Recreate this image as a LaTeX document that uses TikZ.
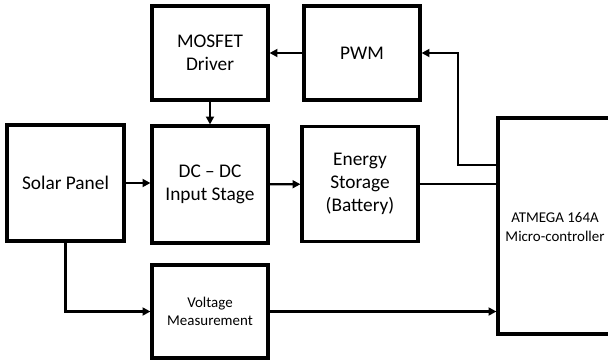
\documentclass[tikz,border=0pt]{standalone}
\usepackage{fontspec}
\setmainfont{Carlito}
\usetikzlibrary{arrows.meta}
\begin{document}
\begin{tikzpicture}[x=0.02cm, y=-0.02cm, block/.style={draw, line width=1.8pt, align=center, font=\fontsize{11}{13}\selectfont}, small/.style={font=\fontsize{8.5}{10.5}\selectfont}, arrow/.style={line width=1.3pt, -{Triangle[length=4.5pt, width=4.5pt]}}, wire/.style={line width=1.3pt}]

		\useasboundingbox (0,0) rectangle (608,360);
		\clip (0,0) rectangle (608,360);
		\node[block, minimum width=2.32cm, minimum height=1.88cm] (mos) at (210,53) {MOSFET\\Driver};
		\node[block, minimum width=2.32cm, minimum height=1.88cm] (pwm) at (362,53) {PWM};
		\node[block, minimum width=2.34cm, minimum height=2.32cm] (solar) at (65.5,183) {Solar Panel};
		\node[block, minimum width=2.32cm, minimum height=2.34cm] (dc) at (210,184.5) {DC -- DC\\Input Stage};
		\node[block, minimum width=2.32cm, minimum height=2.3cm] (storage) at (360,184) {Energy\\Storage\\(Battery)};
		\node[block, small, minimum width=2.32cm, minimum height=1.86cm] (volt) at (210,311.5) {Voltage\\Measurement};
		\node[block, minimum width=2.6cm, minimum height=4.32cm] (atm) at (563,226) {};
		\node[small, align=center] (atmtext) at (555,227) {ATMEGA 164A\\Micro-controller};
		\coordinate (tap) at (458,165);
		\draw[arrow] (tap -| atm.west) -- (tap) |- (pwm.east);
		\draw[arrow] (pwm) -- (mos);
		\draw[arrow] (mos) -- (dc);
		\draw[arrow] (solar.east) -- (solar.east -| dc.west);
		\draw[arrow] (dc) -- (storage);
		\draw[wire] (storage.east) -- (storage.east -| atm.west);
		\draw[arrow] (solar.south) |- (volt.west);
		\draw[arrow] (volt.east) -- (volt.east -| atm.west);
	\end{tikzpicture}
\end{document}
